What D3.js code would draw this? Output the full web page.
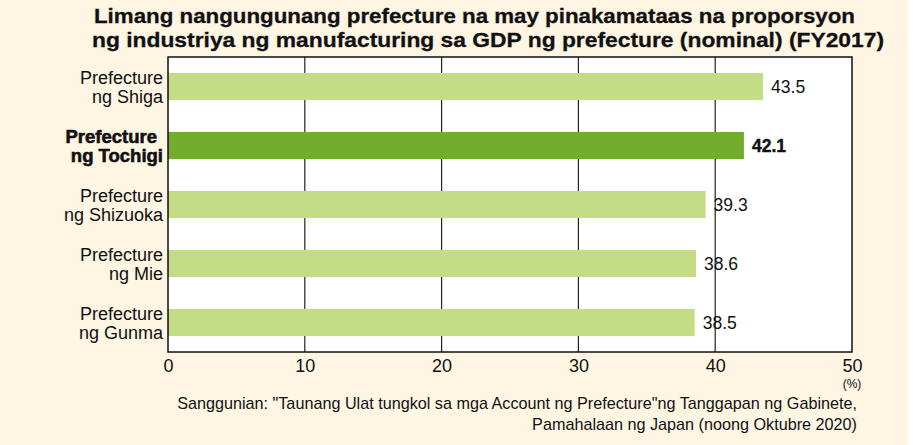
<!DOCTYPE html>
<html><head><meta charset="utf-8">
<script src="https://cdn.jsdelivr.net/npm/d3@7"></script>
<style>
html,body{margin:0;padding:0;background:#fff;}
svg{display:block;}
</style></head>
<body>
<svg id="chart" width="913" height="445"></svg>
<script>
const categories = [["Prefecture","ng Shiga"],["Prefecture","ng Tochigi"],["Prefecture","ng Shizuoka"],["Prefecture","ng Mie"],["Prefecture","ng Gunma"]];
const values = [43.5, 42.1, 39.3, 38.6, 38.5];
const highlight = [false, true, false, false, false];
const tickValues = [0, 10, 20, 30, 40, 50];
const titleLines = ["Limang nangungunang prefecture na may pinakamataas na proporsyon","ng industriya ng manufacturing sa GDP ng prefecture (nominal) (FY2017)"];
const sourceLines = ["Sanggunian: \"Taunang Ulat tungkol sa mga Account ng Prefecture\"ng Tanggapan ng Gabinete,","Pamahalaan ng Japan (noong Oktubre 2020)"];
const unitLabel = "(%)";

const svg = d3.select("#chart");
svg.append("rect").attr("x",0).attr("y",0).attr("width",908).attr("height",445).attr("fill","#fef5e3");

const m = {left:168, right:852, top:57, bottom:352};
const x = d3.scaleLinear().domain([0,50]).range([m.left, m.right]);
const ids = categories.map((c,i)=>i);
const y = d3.scaleBand().domain(ids).range([m.top, m.bottom]).paddingInner(0.54).paddingOuter(0.27);
const FONT = "'Liberation Sans',Arial,Helvetica,sans-serif";

// title
const tl = [{x:94,y:23,w:761},{x:92,y:47,w:792}];
svg.selectAll("text.title").data(titleLines).join("text").attr("class","title")
  .attr("x",(d,i)=>tl[i].x).attr("y",(d,i)=>tl[i].y)
  .attr("textLength",(d,i)=>tl[i].w).attr("lengthAdjust","spacingAndGlyphs")
  .attr("font-family",FONT)
  .attr("font-weight","bold").attr("font-size",21).attr("fill","#111")
  .attr("stroke","#111").attr("stroke-width",0.3).text(d=>d);

// plot area
svg.append("rect").attr("x",m.left).attr("y",m.top).attr("width",m.right-m.left).attr("height",m.bottom-m.top).attr("fill","#fff");

// grid
svg.append("g").selectAll("line").data(tickValues.slice(1,-1)).join("line")
  .attr("x1",d=>x(d)).attr("x2",d=>x(d)).attr("y1",m.top).attr("y2",m.bottom)
  .attr("stroke","#222").attr("stroke-width",1.2);

// bars
svg.append("g").selectAll("rect").data(values).join("rect")
  .attr("x",x(0)).attr("y",(d,i)=>y(i)).attr("width",d=>x(d)-x(0)).attr("height",y.bandwidth())
  .attr("fill",(d,i)=>highlight[i]?"#72ad2b":"#c4dc85");

// border
svg.append("rect").attr("x",m.left).attr("y",m.top).attr("width",m.right-m.left).attr("height",m.bottom-m.top)
  .attr("fill","none").attr("stroke","#111").attr("stroke-width",1.5);

// value labels
svg.append("g").selectAll("text").data(values).join("text")
  .attr("x",d=>x(d)+8).attr("y",(d,i)=>y(i)+y.bandwidth()/2+6.5)
  .attr("font-family",FONT).attr("font-size",17.5)
  .attr("font-weight",(d,i)=>highlight[i]?"bold":"normal").attr("fill","#111")
  .attr("stroke",(d,i)=>highlight[i]?"#111":"none").attr("stroke-width",0.4)
  .text(d=>d.toFixed(1));

// category labels
const cg = svg.append("g");
categories.forEach((c,i)=>{
  const cy = y(i)+y.bandwidth()/2;
  const t = cg.append("text").attr("text-anchor","end")
    .attr("font-family",FONT).attr("font-size",highlight[i]?18.5:18)
    .attr("font-weight",highlight[i]?"900":"normal").attr("fill","#111");
  c.forEach((line,j)=>{
    t.append("tspan").attr("x",highlight[i]&&j===0?157:163).attr("y",cy-3+j*19).text(line);
  });
  if(highlight[i]) t.attr("stroke","#111").attr("stroke-width",0.6);
});

// x axis
const xAxis = d3.axisBottom(x).tickValues(tickValues).tickSize(0).tickPadding(7).tickFormat(d3.format("d"));
const ax = svg.append("g").attr("transform",`translate(0,${m.bottom})`).call(xAxis);
ax.select(".domain").remove();
ax.selectAll("text").attr("font-family",FONT).attr("font-size",18).attr("fill","#111");

svg.append("text").attr("x",x(50)).attr("y",388).attr("text-anchor","middle")
  .attr("font-family",FONT).attr("font-size",12).attr("fill","#111").text(unitLabel);

// source
svg.selectAll("text.src").data(sourceLines).join("text").attr("class","src")
  .attr("x",857).attr("y",(d,i)=>409+i*21).attr("text-anchor","end")
  .attr("font-family",FONT).attr("font-size",16.2).attr("fill","#111").text(d=>d);
</script>
</body></html>
